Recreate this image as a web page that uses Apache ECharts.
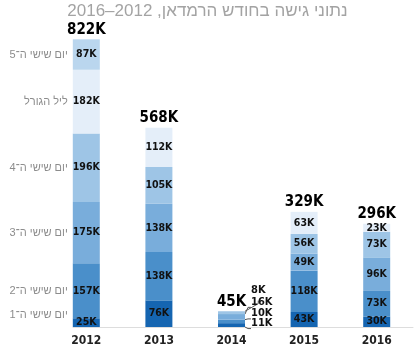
<!DOCTYPE html>
<html>
<head>
<meta charset="utf-8">
<script src="https://cdn.jsdelivr.net/npm/echarts@6/dist/echarts.min.js"></script>
<style>
  html, body { margin: 0; padding: 0; background: #fff; }
  #chart { width: 415px; height: 350px; }
</style>
</head>
<body>
<div id="chart"></div>
<script>
// נתונים (באלפים)
const years = ['2012', '2013', '2014', '2015', '2016']
const friday1 = [25, 76, 11, 43, 30]
const friday2 = [157, 138, 10, 118, 73]
const friday3 = [175, 138, 16, 49, 96]
const friday4 = [196, 105, 8, 56, 73]
const laylat = [182, 112, null, 63, 23]
const friday5 = [87, null, null, null, null]
const totals = [822, 568, 45, 329, 296]
const names = ['יום שישי ה־1', 'יום שישי ה־2', 'יום שישי ה־3', 'יום שישי ה־4', 'ליל הגורל', 'יום שישי ה־5']

const stacks = [friday1, friday2, friday3, friday4, laylat, friday5]
const colors = ['#1565b1', '#4a8fca', '#79addb', '#9ec5e6', '#e4eef9', '#bad6ee']

const numFont = "'Liberation Sans Narrow', 'DejaVu Sans Condensed', sans-serif"
const hebFont = "'Liberation Sans', 'DejaVu Sans', sans-serif"
const barW = 27
// 2014 is too thin, its labels go outside and step upward
const smallShift = [-2, -8, -15, -23]

function itemLabel(si, i, v) {
  if (v == null) return { show: false }
  if (i === 0) {
    // first bar also carries the row names on its left
    return {
      position: 'insideRight',
      distance: 0,
      formatter: '{n|' + names[si] + '}{v|' + v + 'K}',
      rich: {
        n: { color: '#8c8c8c', fontSize: 11, fontWeight: 'normal', fontFamily: hebFont, padding: [0, 5, 0, 0],
             lineHeight: 14, verticalAlign: si === 0 ? 'top' : 'middle' },
        v: { width: barW, align: 'center', color: '#111', fontSize: 10.5, fontWeight: 'bold', fontFamily: numFont,
             lineHeight: si === 0 ? 26 : 14 }
      }
    }
  }
  if (years[i] === '2014') {
    return { position: 'right', distance: 6, offset: [0, smallShift[si]], formatter: v + 'K', fontSize: 11 }
  }
  return { position: 'inside', formatter: v + 'K' }
}

const series = stacks.map((vals, si) => ({
  type: 'bar',
  stack: 'all',
  barWidth: barW,
  silent: true,
  itemStyle: { color: colors[si] },
  label: { show: true, color: '#111', fontSize: 10.5, fontWeight: 'bold', fontFamily: numFont },
  data: vals.map((v, i) => ({
    value: v,
    label: itemLabel(si, i, v),
    labelLine: years[i] === '2014' ? { show: true, smooth: false, length2: 3, lineStyle: { color: '#555', width: 1 } } : { show: false }
  }))
}))

// totals on top
series.push({
  type: 'bar',
  stack: 'all',
  barWidth: barW,
  silent: true,
  itemStyle: { color: 'transparent' },
  label: {
    show: true, position: 'top', distance: 2,
    formatter: p => totals[p.dataIndex] + 'K',
    color: '#000', fontSize: 15, fontWeight: 'bold', fontFamily: numFont
  },
  data: years.map(() => 0)
})

const chart = echarts.init(document.getElementById('chart'), null, { renderer: 'canvas' })
chart.setOption({
  animation: false,
  title: {
    text: 'נתוני גישה בחודש הרמדאן, 2012–2016',
    left: 'center',
    top: -2,
    textStyle: { color: '#a3a3a3', fontSize: 17, fontWeight: 'normal', fontFamily: hebFont }
  },
  grid: [
    { left: 50, right: 2, top: 12, bottom: 23 },
    // only for the baseline, which starts at the first bar
    { left: 73, right: 2, top: 12, bottom: 23 }
  ],
  xAxis: [{
    type: 'category',
    data: years,
    gridIndex: 0,
    axisLine: { show: false },
    axisTick: { show: false },
    axisLabel: { color: '#222', fontSize: 12, fontWeight: 'bold', fontFamily: numFont, margin: 8 }
  }, {
    type: 'value',
    gridIndex: 1,
    axisLine: { show: true, lineStyle: { color: '#dddddd', width: 1 } },
    axisTick: { show: false },
    axisLabel: { show: false },
    splitLine: { show: false }
  }],
  yAxis: [
    { type: 'value', min: 0, max: 900, show: false, gridIndex: 0 },
    { type: 'value', show: false, gridIndex: 1 }
  ],
  series: series
})
</script>
</body>
</html>
